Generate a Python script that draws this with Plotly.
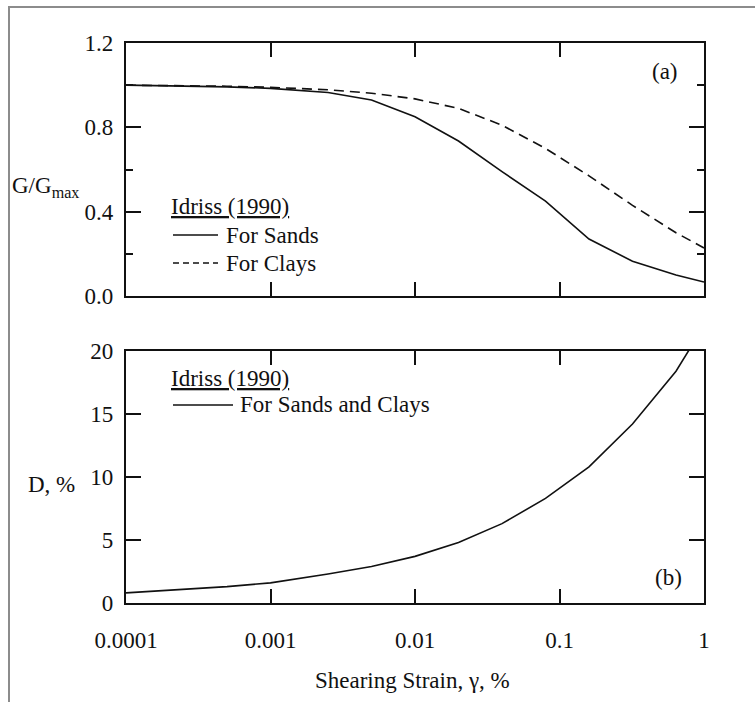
import plotly.graph_objects as go

# ---- data ----
strain = [0.0001, 0.0002, 0.0005, 0.001, 0.0025, 0.005, 0.01, 0.02, 0.04, 0.08, 0.16, 0.32, 0.64, 1.0]
g_sands = [1.0, 0.998, 0.992, 0.985, 0.965, 0.93, 0.85, 0.735, 0.59, 0.45, 0.27, 0.165, 0.10, 0.066]
g_clays = [1.0, 0.999, 0.995, 0.99, 0.978, 0.962, 0.935, 0.89, 0.81, 0.70, 0.57, 0.43, 0.30, 0.228]
damping = [0.8, 1.0, 1.3, 1.6, 2.3, 2.9, 3.7, 4.8, 6.3, 8.3, 10.8, 14.2, 18.4, 22.0]

x_tickvals = [0.0001, 0.001, 0.01, 0.1, 1]
x_ticktext = ["0.0001", "0.001", "0.01", "0.1", "1"]
g_tickvals = [0.0, 0.4, 0.8, 1.2]
g_ticktext = ["0.0", "0.4", "0.8", "1.2"]
g_minor = [0.2, 0.6, 1.0]
d_tickvals = [0, 5, 10, 15, 20]

FONT = "Liberation Serif"
FS = 23
INK = "#111111"

# pixel geometry helpers (plot area 126..704 x 43..603)
L, R, T, B = 126, 704, 43, 603
W, H = R - L, B - T
def px(x):
    return (x - L) / W
def py(y):
    return (B - y) / H

fig = go.Figure()
fig.add_trace(go.Scatter(x=strain, y=g_sands, mode="lines", line=dict(color=INK, width=1.6),
                         xaxis="x", yaxis="y", showlegend=False))
fig.add_trace(go.Scatter(x=strain, y=g_clays, mode="lines", line=dict(color=INK, width=1.6, dash="10px,6px"),
                         xaxis="x", yaxis="y", showlegend=False))
fig.add_trace(go.Scatter(x=strain, y=damping, mode="lines", line=dict(color=INK, width=1.6),
                         xaxis="x2", yaxis="y2", showlegend=False))

xcommon = dict(type="log", range=[-4, 0], showline=True, linecolor=INK, linewidth=2.2,
               mirror="ticks", ticks="inside", ticklen=14, tickwidth=1.5, tickcolor=INK,
               tickvals=x_tickvals, showgrid=False, zeroline=False)
ycommon = dict(showline=True, linecolor=INK, linewidth=2.2, mirror="ticks", ticks="inside",
               ticklen=15, tickwidth=1.5, tickcolor=INK, showgrid=False, zeroline=False,
               ticklabelstandoff=6)

top_bottom = py(296)
bot_top = py(351)

fig.update_layout(
    width=755, height=702,
    margin=dict(l=L, r=755 - R, t=T, b=702 - B),
    paper_bgcolor="white", plot_bgcolor="white",
    font=dict(family=FONT, size=FS, color=INK),
    showlegend=False,
    xaxis=dict(xcommon, anchor="y", showticklabels=False),
    yaxis=dict(ycommon, domain=[top_bottom, 1], range=[0, 1.2], tickvals=g_tickvals, ticktext=g_ticktext,
               minor=dict(tickvals=g_minor, ticks="inside", ticklen=7, tickwidth=1.5, tickcolor=INK)),
    xaxis2=dict(xcommon, anchor="y2", ticktext=x_ticktext, ticklabelstandoff=15),
    yaxis2=dict(ycommon, domain=[0, bot_top], range=[0, 20], tickvals=d_tickvals),
)

ann = []
def text(x, y, s, xanchor="left"):
    ann.append(dict(x=px(x), y=py(y), xref="paper", yref="paper", text=s, showarrow=False,
                    xanchor=xanchor, yanchor="middle", font=dict(family=FONT, size=FS, color=INK)))

text(10, 187, "G/G<sub>max</sub>")
text(26, 484, "D, %")
text(650, 71, "(a)")
text(653, 577, "(b)")
text(169, 207, "<u>Idriss (1990)</u>")
text(224, 235, "For Sands")
text(224, 263, "For Clays")
text(169, 378, "<u>Idriss (1990)</u>")
text(238, 405, "For Sands and Clays")
text(412, 680, "Shearing Strain, \u03b3, %", xanchor="center")
fig.update_layout(annotations=ann)

shapes = [
    # outer gray frame (left and top edges)
    dict(type="path", xref="paper", yref="paper",
         path=f"M {px(9)} {py(710)} L {px(9)} {py(7)} L {px(760)} {py(7)}",
         line=dict(color="#8c8c8c", width=2)),
    # legend keys
    dict(type="line", xref="paper", yref="paper", x0=px(173), x1=px(218), y0=py(235), y1=py(235),
         line=dict(color=INK, width=1.6)),
    dict(type="line", xref="paper", yref="paper", x0=px(173), x1=px(218), y0=py(263), y1=py(263),
         line=dict(color=INK, width=1.6, dash="6px,4px")),
    dict(type="line", xref="paper", yref="paper", x0=px(173), x1=px(233), y0=py(405), y1=py(405),
         line=dict(color=INK, width=1.6)),
]
fig.update_layout(shapes=shapes)

fig.write_html("out.html")
